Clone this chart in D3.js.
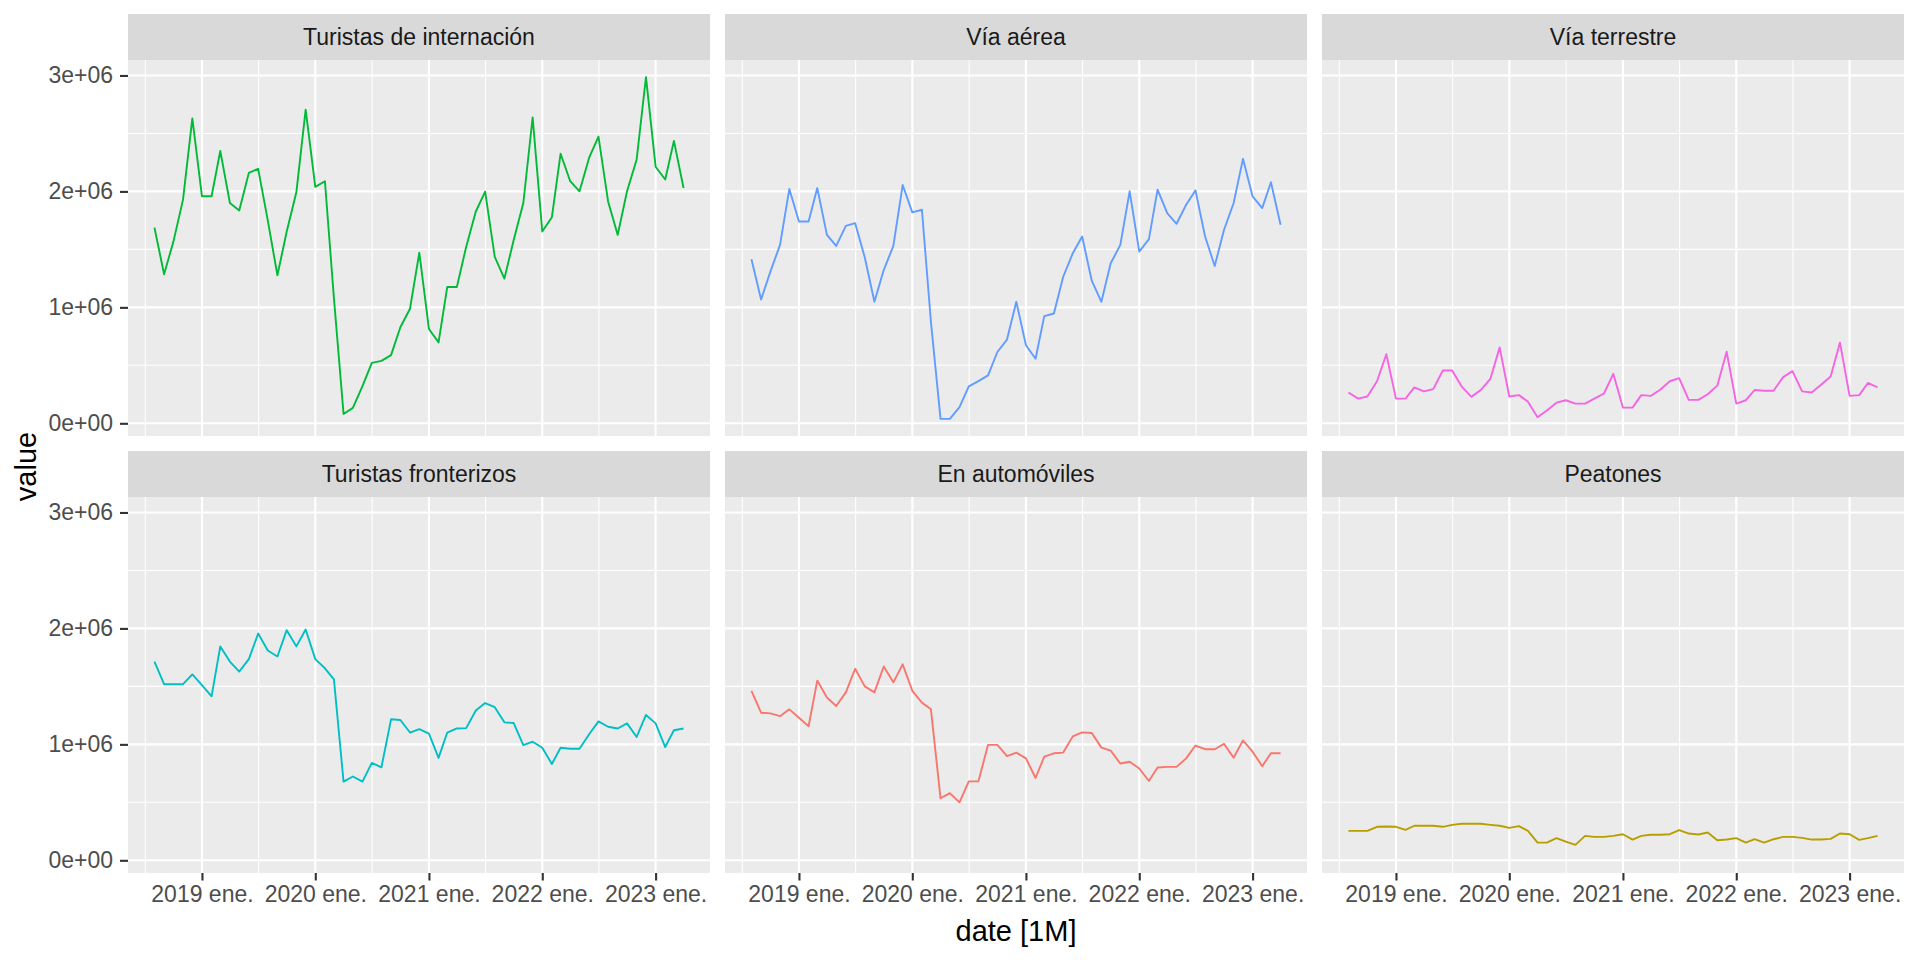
<!DOCTYPE html>
<html>
<head>
<meta charset="utf-8">
<script src="https://cdn.jsdelivr.net/npm/d3@7"></script>
<style>
  body { margin: 0; background: #ffffff; }
  svg { display: block; font-family: "Liberation Sans", Arial, sans-serif; }
</style>
</head>
<body>
<div id="grafico"></div>
<script>
// Meses (yearmonth) de la serie
const meses = [
  "2018-08","2018-09","2018-10","2018-11","2018-12",
  "2019-01","2019-02","2019-03","2019-04","2019-05","2019-06","2019-07","2019-08","2019-09","2019-10","2019-11","2019-12",
  "2020-01","2020-02","2020-03","2020-04","2020-05","2020-06","2020-07","2020-08","2020-09","2020-10","2020-11","2020-12",
  "2021-01","2021-02","2021-03","2021-04","2021-05","2021-06","2021-07","2021-08","2021-09","2021-10","2021-11","2021-12",
  "2022-01","2022-02","2022-03","2022-04","2022-05","2022-06","2022-07","2022-08","2022-09","2022-10","2022-11","2022-12",
  "2023-01","2023-02","2023-03","2023-04"
];

// Valores en miles de personas
const turistasInternacion = [1688,1286,1567,1929,2630,1958,1958,2349,1900,1836,2160,2195,1750,1277,1654,1992,2705,2039,2088,1080,81,133,320,521,539,588,828,988,1471,814,698,1176,1176,1523,1827,1998,1436,1248,1581,1900,2638,1654,1778,2325,2088,2001,2291,2473,1914,1625,2001,2276,2986,2213,2103,2436,2030];
const viaAerea = [1415,1068,1308,1539,2021,1741,1741,2029,1625,1530,1703,1726,1430,1048,1322,1530,2055,1819,1842,875,38,38,139,318,364,413,615,722,1048,673,557,924,947,1264,1467,1611,1230,1048,1380,1539,2001,1481,1588,2015,1813,1721,1885,2009,1611,1357,1669,1900,2281,1957,1856,2079,1712];
const viaTerrestre = [266,213,231,363,596,213,213,310,275,295,456,456,316,228,287,383,655,231,243,187,53,111,178,199,170,170,213,257,427,135,135,243,237,289,363,389,202,202,251,325,617,170,199,287,281,281,398,450,275,266,333,404,696,237,243,348,310];
const turistasFronterizos = [1714,1519,1519,1519,1603,1510,1414,1845,1714,1627,1735,1956,1810,1758,1985,1845,1991,1735,1656,1560,679,723,679,840,802,1216,1210,1102,1131,1093,883,1102,1137,1140,1292,1356,1321,1190,1184,994,1023,971,831,971,962,962,1087,1198,1152,1137,1181,1064,1254,1181,977,1122,1137];
const enAutomoviles = [1462,1273,1267,1243,1302,1229,1156,1550,1404,1331,1448,1652,1500,1448,1672,1535,1690,1462,1360,1302,535,579,500,681,681,996,996,899,929,879,710,894,923,929,1069,1103,1098,972,946,835,850,792,684,800,806,806,879,990,958,958,1004,885,1034,937,812,923,923];
const peatones = [254,254,254,289,292,289,263,298,298,298,289,306,315,315,315,306,298,280,295,254,153,153,191,162,133,211,202,202,211,225,179,211,220,220,225,260,231,223,240,173,179,191,153,182,153,182,202,202,194,179,179,185,231,225,176,191,211];

// Facetas, en el orden de facet_wrap
const titulos = ["Turistas de internación", "Vía aérea", "Vía terrestre",
                 "Turistas fronterizos", "En automóviles", "Peatones"];
const series = [turistasInternacion, viaAerea, viaTerrestre,
                turistasFronterizos, enAutomoviles, peatones];
const colores = ["#00BA38", "#619CFF", "#F564E3", "#00BFC4", "#F8766D", "#B79F00"];

// Ticks
const ticksX = ["2019-01", "2020-01", "2021-01", "2022-01", "2023-01"];
const etiquetasX = ["2019 ene.", "2020 ene.", "2021 ene.", "2022 ene.", "2023 ene."];
const ticksY = [0, 1e6, 2e6, 3e6];
const etiquetasY = ["0e+00", "1e+06", "2e+06", "3e+06"];

// Configuración
const width = 1920;
const height = 960;
const izq = 128, arriba = 14;
const panelW = 582, panelH = 376, stripH = 46;
const sepX = 15, sepY = 15;
const fuente = 23;

const parseMes = d3.timeParse("%Y-%m");
const fechas = meses.map(parseMes);

const datos = series.map(s => s.map((v, i) => ({ fecha: fechas[i], valor: v * 1000 })));

const svg = d3.select("#grafico")
    .append("svg")
    .attr("width", width)
    .attr("height", height);

// Escala X con expansión del 5% (como ggplot)
const [f0, f1] = d3.extent(fechas);
const span = f1 - f0;
const x = d3.scaleTime()
    .domain([new Date(+f0 - 0.05 * span), new Date(+f1 + 0.05 * span)])
    .range([0, panelW]);

// Escala Y compartida
const todos = datos.flat().map(d => d.valor);
const [v0, v1] = d3.extent(todos);
const rangoV = v1 - v0;
const y = d3.scaleLinear()
    .domain([v0 - 0.05 * rangoV, v1 + 0.05 * rangoV])
    .range([panelH, 0]);

// Cortes menores: puntos medios entre los mayores
const anios = d3.timeYear.range(d3.timeYear.floor(x.domain()[0]), d3.timeYear.offset(x.domain()[1], 1));
const menoresX = d3.pairs(anios).map(([a, b]) => new Date((+a + +b) / 2))
    .filter(d => d >= x.domain()[0] && d <= x.domain()[1]);
const menoresY = d3.pairs([-1e6].concat(ticksY, [4e6])).map(([a, b]) => (a + b) / 2)
    .filter(v => v >= y.domain()[0] && v <= y.domain()[1]);
const mayoresX = ticksX.map(parseMes);

const linea = d3.line()
    .x(d => x(d.fecha))
    .y(d => y(d.valor));

titulos.forEach((titulo, k) => {
    const col = k % 3, fila = Math.floor(k / 3);
    const x0 = izq + col * (panelW + sepX);
    const y0 = arriba + fila * (stripH + panelH + sepY);

    // Franja del título
    svg.append("rect")
        .attr("x", x0).attr("y", y0)
        .attr("width", panelW).attr("height", stripH)
        .attr("fill", "#D9D9D9");
    svg.append("text")
        .attr("x", x0 + panelW / 2)
        .attr("y", y0 + stripH / 2)
        .attr("dy", "0.35em")
        .attr("text-anchor", "middle")
        .attr("font-size", fuente)
        .attr("fill", "#1A1A1A")
        .text(titulo);

    const g = svg.append("g")
        .attr("transform", `translate(${x0},${y0 + stripH})`);

    g.append("rect")
        .attr("width", panelW).attr("height", panelH)
        .attr("fill", "#EBEBEB");

    // Rejilla menor
    g.selectAll(".menorx").data(menoresX).enter().append("line")
        .attr("x1", d => x(d)).attr("x2", d => x(d))
        .attr("y1", 0).attr("y2", panelH)
        .attr("stroke", "#ffffff").attr("stroke-width", 1.05);
    g.selectAll(".menory").data(menoresY).enter().append("line")
        .attr("x1", 0).attr("x2", panelW)
        .attr("y1", d => y(d)).attr("y2", d => y(d))
        .attr("stroke", "#ffffff").attr("stroke-width", 1.05);

    // Rejilla mayor
    g.selectAll(".mayorx").data(mayoresX).enter().append("line")
        .attr("x1", d => x(d)).attr("x2", d => x(d))
        .attr("y1", 0).attr("y2", panelH)
        .attr("stroke", "#ffffff").attr("stroke-width", 2.1);
    g.selectAll(".mayory").data(ticksY).enter().append("line")
        .attr("x1", 0).attr("x2", panelW)
        .attr("y1", d => y(d)).attr("y2", d => y(d))
        .attr("stroke", "#ffffff").attr("stroke-width", 2.1);

    // Serie
    g.append("path")
        .datum(datos[k])
        .attr("d", linea)
        .attr("fill", "none")
        .attr("stroke", colores[k])
        .attr("stroke-width", 1.9)
        .attr("stroke-linejoin", "round");

    // Eje Y sólo en la primera columna
    if (col === 0) {
        const ejeY = g.append("g")
            .call(d3.axisLeft(y)
                .tickValues(ticksY)
                .tickFormat((d, i) => etiquetasY[i])
                .tickSize(8)
                .tickPadding(7));
        estiloEje(ejeY);
    }

    // Eje X sólo en la fila de abajo
    if (fila === 1) {
        const ejeX = g.append("g")
            .attr("transform", `translate(0,${panelH})`)
            .call(d3.axisBottom(x)
                .tickValues(mayoresX)
                .tickFormat((d, i) => etiquetasX[i])
                .tickSize(7.5)
                .tickPadding(5.5));
        estiloEje(ejeX);
    }
});

function estiloEje(eje) {
    eje.select(".domain").remove();
    eje.selectAll(".tick line")
        .attr("stroke", "#333333")
        .attr("stroke-width", 2.1);
    eje.selectAll(".tick text")
        .attr("fill", "#4D4D4D")
        .attr("font-size", fuente)
        .attr("font-family", "'Liberation Sans', Arial, sans-serif");
}

// Títulos de los ejes
const centroX = izq + (3 * panelW + 2 * sepX) / 2;
svg.append("text")
    .attr("x", centroX)
    .attr("y", 941)
    .attr("text-anchor", "middle")
    .attr("font-size", 29)
    .attr("fill", "#000000")
    .text("date [1M]");

const centroY = (arriba + stripH + arriba + 2 * (stripH + panelH) + sepY) / 2;
svg.append("text")
    .attr("transform", `translate(36,${centroY}) rotate(-90)`)
    .attr("text-anchor", "middle")
    .attr("font-size", 29)
    .attr("fill", "#000000")
    .text("value");
</script>
</body>
</html>
